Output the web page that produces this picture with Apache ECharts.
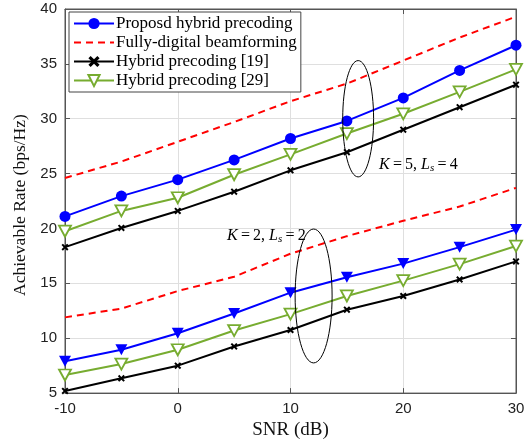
<!DOCTYPE html>
<html>
<head>
<meta charset="utf-8">
<script src="https://cdn.jsdelivr.net/npm/echarts@6/dist/echarts.min.js"></script>
<style>
html, body { margin: 0; padding: 0; background: #fff; }
#chart { width: 532px; height: 445px; }
</style>
</head>
<body>
<div id="chart"></div>
<script>
var snr = [-10, -5, 0, 5, 10, 15, 20, 25, 30];

// K=5, Ls=4
var proposed_k5 = [21.1, 22.95, 24.45, 26.25, 28.2, 29.8, 31.9, 34.4, 36.7];
var digital_k5 = [24.6, 26.1, 27.9, 29.7, 31.6, 33.2, 35.3, 37.4, 39.3];
var ref19_k5 = [18.3, 20.05, 21.6, 23.35, 25.3, 26.95, 29.0, 31.05, 33.1];
var ref29_k5 = [19.75, 21.6, 22.8, 24.9, 26.75, 28.65, 30.45, 32.45, 34.5];

// K=2, Ls=2
var proposed_k2 = [7.9, 8.95, 10.45, 12.25, 14.15, 15.55, 16.8, 18.3, 19.9];
var digital_k2 = [11.9, 12.7, 14.3, 15.6, 17.7, 19.3, 20.7, 22.0, 23.7];
var ref19_k2 = [5.2, 6.35, 7.5, 9.25, 10.75, 12.6, 13.85, 15.35, 17.0];
var ref29_k2 = [6.65, 7.65, 8.95, 10.7, 12.2, 13.85, 15.25, 16.75, 18.4];

var legend_names = ['Proposd hybrid precoding', 'Fully-digital beamforming', 'Hybrid precoding [19]', 'Hybrid precoding [29]'];

function pairs(ys) {
    return snr.map(function (x, i) { return [x, ys[i]]; });
}

var blue = '#0000ff', red = '#ff0000', black = '#000000', green = '#77ac30';
var tri_down = 'path://M0,0L10,0L5,9Z';
var cross = 'path://M0,2L2,0L5,3L8,0L10,2L7,5L10,8L8,10L5,7L2,10L0,8L3,5Z';
var serif = 'Liberation Serif';

function blue_series(data, symbol) {
    return {
        name: legend_names[0], type: 'line', data: pairs(data),
        symbol: symbol, symbolSize: symbol === 'circle' ? 11 : [12, 11],
        lineStyle: {color: blue, width: 2}, itemStyle: {color: blue},
        z: 5
    };
}
function red_series(data) {
    return {
        name: legend_names[1], type: 'line', data: pairs(data),
        symbol: 'circle', showSymbol: false,
        lineStyle: {color: red, width: 2, type: [7, 5]},
        itemStyle: {color: 'rgba(0,0,0,0)'},
        z: 4
    };
}
function black_series(data) {
    return {
        name: legend_names[2], type: 'line', data: pairs(data),
        symbol: cross, symbolSize: 7,
        lineStyle: {color: black, width: 2}, itemStyle: {color: black},
        z: 3
    };
}
function green_series(data) {
    return {
        name: legend_names[3], type: 'line', data: pairs(data),
        symbol: tri_down, symbolSize: [12, 11],
        lineStyle: {color: green, width: 2},
        itemStyle: {color: '#ffffff', borderColor: green, borderWidth: 1.8},
        z: 4
    };
}

var chartDom = document.getElementById('chart');
var myChart = echarts.init(chartDom);
var option;

var axis_color = '#555555';

option = {
    animation: false,
    grid: {left: 65, right: 16, top: 9, bottom: 48, show: true, borderColor: axis_color, borderWidth: 1},
    legend: {
        data: legend_names,
        orient: 'vertical',
        left: 69, top: 12,
        padding: [3, 4, 3, 4],
        itemGap: 2,
        itemWidth: 40, itemHeight: 14,
        backgroundColor: '#ffffff',
        borderColor: '#444444', borderWidth: 1,
        textStyle: {fontFamily: serif, fontSize: 17, lineHeight: 17, color: '#000', padding: [0, 0, 0, -3]}
    },
    xAxis: [{
        type: 'value', min: -10, max: 30, interval: 10,
        name: 'SNR (dB)', nameLocation: 'middle', nameGap: 26,
        nameTextStyle: {fontFamily: serif, fontSize: 19, color: '#111'},
        axisLine: {show: true, onZero: false, lineStyle: {color: axis_color}},
        axisTick: {inside: true, length: 5, lineStyle: {color: axis_color}},
        axisLabel: {fontFamily: 'Liberation Sans', fontSize: 15, color: '#222', margin: 8},
        splitLine: {show: true, lineStyle: {color: '#dfdfdf'}}
    }, {
        type: 'value', min: -10, max: 30, interval: 10, position: 'top',
        axisLine: {show: true, onZero: false, lineStyle: {color: axis_color}},
        axisTick: {inside: true, length: 5, lineStyle: {color: axis_color}},
        axisLabel: {show: false}, splitLine: {show: false}
    }],
    yAxis: [{
        type: 'value', min: 5, max: 40, interval: 5,
        name: 'Achievable Rate (bps/Hz)', nameLocation: 'middle', nameGap: 30,
        nameTextStyle: {fontFamily: serif, fontSize: 17.5, color: '#111', padding: [0, 8, 0, 0]},
        axisLine: {show: true, onZero: false, lineStyle: {color: axis_color}},
        axisTick: {show: true, inside: true, length: 5, lineStyle: {color: axis_color}},
        axisLabel: {fontFamily: 'Liberation Sans', fontSize: 15, color: '#222', margin: 8},
        splitLine: {show: true, lineStyle: {color: '#dfdfdf'}}
    }, {
        type: 'value', min: 5, max: 40, interval: 5, position: 'right',
        axisLine: {show: true, onZero: false, lineStyle: {color: axis_color}},
        axisTick: {show: true, inside: true, length: 5, lineStyle: {color: axis_color}},
        axisLabel: {show: false}, splitLine: {show: false}
    }],
    series: [
        red_series(digital_k5),
        blue_series(proposed_k5, 'circle'),
        black_series(ref19_k5),
        green_series(ref29_k5),
        red_series(digital_k2),
        blue_series(proposed_k2, tri_down),
        black_series(ref19_k2),
        green_series(ref29_k2)
    ]
};

option && myChart.setOption(option);

// ellipses marking the two groups, plus the K / Ls notes
function px(x, y) {
    return myChart.convertToPixel({gridIndex: 0}, [x, y]);
}
var c1 = px(16, 30.0), c2 = px(12.05, 13.85);
var sx = px(1, 5)[0] - px(0, 5)[0];
var sy = px(0, 5)[1] - px(0, 6)[1];
var note_rich = {
    i: {fontFamily: serif, fontStyle: 'italic', fontSize: 16, color: '#222'},
    n: {fontFamily: serif, fontSize: 16, color: '#222'},
    s: {fontFamily: serif, fontStyle: 'italic', fontSize: 11, color: '#222', verticalAlign: 'bottom', padding: [7, 0, 0, 0]}
};
var t1 = px(17.85, 25.84), t2 = px(4.37, 19.34);
var eq = '\u2009=\u2009';

myChart.setOption({
    graphic: [
        {type: 'ellipse', shape: {cx: c1[0], cy: c1[1], rx: 1.37 * sx, ry: 5.3 * sy},
            style: {fill: 'none', stroke: '#000', lineWidth: 1}, z: 10},
        {type: 'ellipse', shape: {cx: c2[0], cy: c2[1], rx: 1.64 * sx, ry: 6.1 * sy},
            style: {fill: 'none', stroke: '#000', lineWidth: 1}, z: 10},
        {type: 'text', x: t1[0], y: t1[1], z: 10,
            style: {text: '{i|K}{n|' + eq + '5, }{i|L}{s|s}{n|' + eq + '4}', rich: note_rich, verticalAlign: 'middle'}},
        {type: 'text', x: t2[0], y: t2[1], z: 10,
            style: {text: '{i|K}{n|' + eq + '2, }{i|L}{s|s}{n|' + eq + '2}', rich: note_rich, verticalAlign: 'middle'}}
    ]
});
</script>
</body>
</html>
